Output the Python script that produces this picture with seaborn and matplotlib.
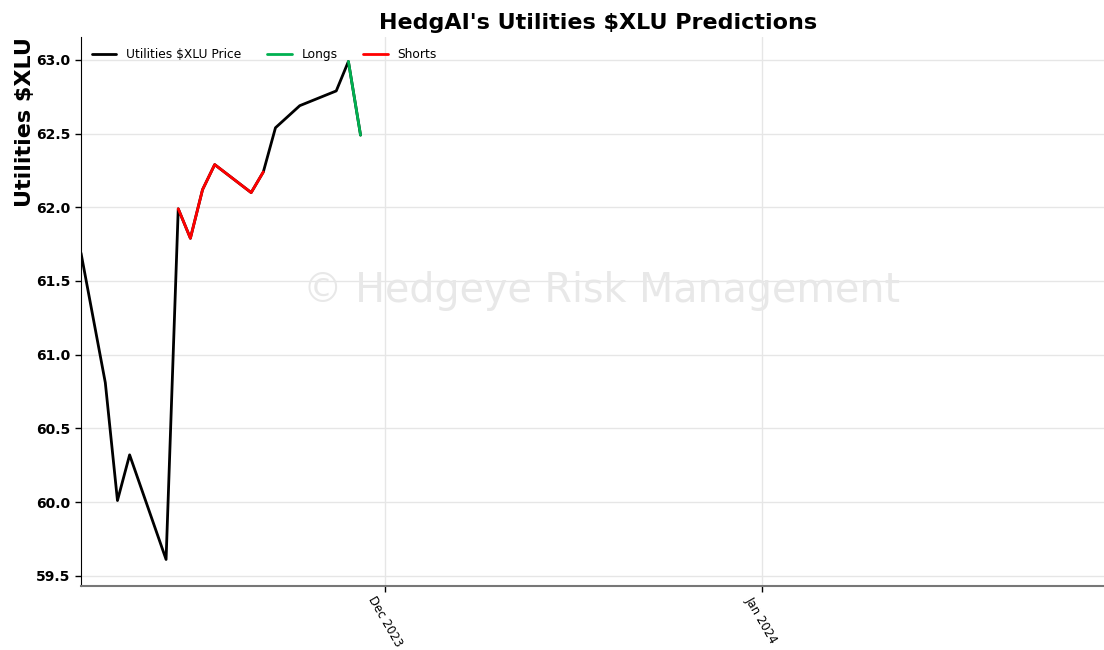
import matplotlib
matplotlib.use("Agg")
import matplotlib.pyplot as plt
import matplotlib.dates as mdates
import seaborn as sns
import pandas as pd

dates = ["2023-11-06", "2023-11-08", "2023-11-09", "2023-11-10", "2023-11-13",
         "2023-11-14", "2023-11-15", "2023-11-16", "2023-11-17", "2023-11-20",
         "2023-11-21", "2023-11-22", "2023-11-24", "2023-11-27", "2023-11-28",
         "2023-11-29"]
prices = [61.69, 60.81, 60.01, 60.32, 59.61, 61.99, 61.79, 62.12, 62.29, 62.10,
          62.24, 62.54, 62.69, 62.79, 62.99, 62.49]
short_dates = ["2023-11-14", "2023-11-15", "2023-11-16", "2023-11-17", "2023-11-20", "2023-11-21"]
long_dates = ["2023-11-28", "2023-11-29"]

df = pd.DataFrame({"date": pd.to_datetime(dates), "price": prices})
shorts = df[df["date"].isin(pd.to_datetime(short_dates))]
longs = df[df["date"].isin(pd.to_datetime(long_dates))]

sns.set_style("white")
plt.rcParams.update({"text.color": "black", "axes.labelcolor": "black",
                     "xtick.color": "black", "ytick.color": "black"})
fig = plt.figure(figsize=(11.04, 6.5), dpi=100)
ax = fig.add_axes([81 / 1104, 1 - 586 / 650, 1 - 81 / 1104, (586 - 37) / 650])

sns.lineplot(data=df, x="date", y="price", ax=ax, color="black", lw=2, label="Utilities $XLU Price")
sns.lineplot(data=longs, x="date", y="price", ax=ax, color="#00b050", lw=2, label="Longs")
sns.lineplot(data=shorts, x="date", y="price", ax=ax, color="#ff0000", lw=2, label="Shorts")

ax.set_xlim(pd.Timestamp("2023-11-06"), pd.Timestamp("2024-01-29 04:00"))
ax.set_ylim(59.43, 63.156)
ax.xaxis.set_major_locator(mdates.MonthLocator())
ax.xaxis.set_major_formatter(mdates.DateFormatter("%b %Y"))
ax.grid(True, color="#e6e6e6", lw=1)
for s in ["top", "right"]:
    ax.spines[s].set_visible(False)
ax.spines["left"].set_color("black")
ax.spines["bottom"].set_color("#777777")
ax.spines["bottom"].set_linewidth(1.5)
ax.tick_params(axis="both", length=4, width=1, bottom=True, left=True)
ax.tick_params(axis="x", pad=2)
plt.setp(ax.get_xticklabels(), rotation=-60, ha="center", fontsize=8.5)
for lab in ax.get_yticklabels():
    lab.set_fontweight("bold")
    lab.set_fontsize(10)
ax.set_xlabel("")
ax.set_ylabel("Utilities $XLU", fontsize=16, fontweight="bold")
ax.yaxis.set_label_coords(-0.045, 0.845)
ax.set_title("HedgAI's Utilities $XLU Predictions", fontsize=16, fontweight="bold", pad=6, x=0.505)

leg = ax.legend(loc="upper left", ncol=3, frameon=False, fontsize=8.8, handlelength=2.0,
                columnspacing=2.1, bbox_to_anchor=(0.0, 1.0))

fig.text(602 / 1104, 1 - 291 / 650, "© Hedgeye Risk Management", fontsize=28.5,
         color="#e8e8e8", ha="center", va="center", zorder=0)

fig.savefig("out.png", dpi=100)
